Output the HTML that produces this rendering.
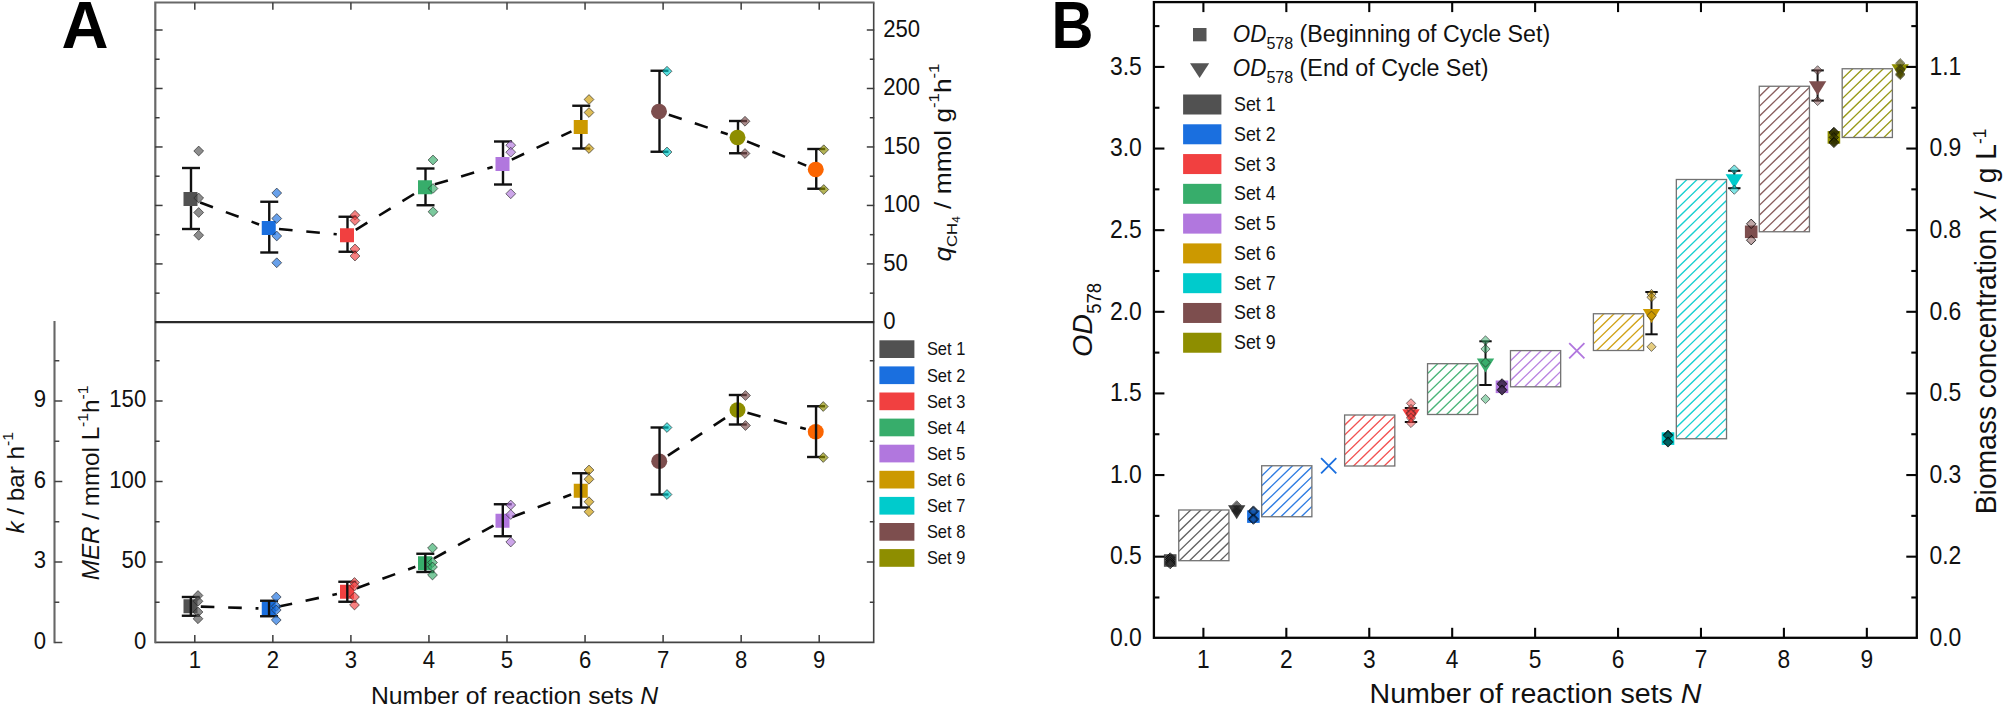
<!DOCTYPE html>
<html><head><meta charset="utf-8"><title>Figure</title>
<style>
html,body{margin:0;padding:0;background:#fff;}
svg{display:block;font-family:'Liberation Sans', Arial, sans-serif;}
</style></head><body>
<svg width="2003" height="706" viewBox="0 0 2003 706">
<rect width="2003" height="706" fill="#fff"/>
<line x1="200.16" y1="202.58" x2="259.09" y2="224.42" stroke="#0a0a0a" stroke-width="2.6" stroke-dasharray="13.6 13.8"/>
<line x1="279.01" y1="228.95" x2="336.74" y2="234.30" stroke="#0a0a0a" stroke-width="2.6" stroke-dasharray="13.6 13.8"/>
<line x1="355.77" y1="229.85" x2="416.23" y2="192.65" stroke="#0a0a0a" stroke-width="2.6" stroke-dasharray="13.6 13.8"/>
<line x1="434.87" y1="184.29" x2="492.63" y2="166.96" stroke="#0a0a0a" stroke-width="2.6" stroke-dasharray="13.6 13.8"/>
<line x1="511.81" y1="159.60" x2="571.44" y2="131.40" stroke="#0a0a0a" stroke-width="2.6" stroke-dasharray="13.6 13.8"/>
<line x1="668.78" y1="114.74" x2="727.72" y2="134.26" stroke="#0a0a0a" stroke-width="2.6" stroke-dasharray="13.6 13.8"/>
<line x1="747.03" y1="141.40" x2="806.22" y2="165.60" stroke="#0a0a0a" stroke-width="2.6" stroke-dasharray="13.6 13.8"/>
<line x1="191.00" y1="168.00" x2="191.00" y2="229.00" stroke="#111" stroke-width="2.4" />
<line x1="182.00" y1="168.00" x2="200.00" y2="168.00" stroke="#111" stroke-width="2.4" />
<line x1="182.00" y1="229.00" x2="200.00" y2="229.00" stroke="#111" stroke-width="2.4" />
<line x1="269.25" y1="201.75" x2="269.25" y2="252.50" stroke="#111" stroke-width="2.4" />
<line x1="260.25" y1="201.75" x2="278.25" y2="201.75" stroke="#111" stroke-width="2.4" />
<line x1="260.25" y1="252.50" x2="278.25" y2="252.50" stroke="#111" stroke-width="2.4" />
<line x1="347.50" y1="216.75" x2="347.50" y2="251.75" stroke="#111" stroke-width="2.4" />
<line x1="338.50" y1="216.75" x2="356.50" y2="216.75" stroke="#111" stroke-width="2.4" />
<line x1="338.50" y1="251.75" x2="356.50" y2="251.75" stroke="#111" stroke-width="2.4" />
<line x1="425.50" y1="168.50" x2="425.50" y2="205.25" stroke="#111" stroke-width="2.4" />
<line x1="416.50" y1="168.50" x2="434.50" y2="168.50" stroke="#111" stroke-width="2.4" />
<line x1="416.50" y1="205.25" x2="434.50" y2="205.25" stroke="#111" stroke-width="2.4" />
<line x1="503.00" y1="141.50" x2="503.00" y2="184.50" stroke="#111" stroke-width="2.4" />
<line x1="494.00" y1="141.50" x2="512.00" y2="141.50" stroke="#111" stroke-width="2.4" />
<line x1="494.00" y1="184.50" x2="512.00" y2="184.50" stroke="#111" stroke-width="2.4" />
<line x1="581.25" y1="105.75" x2="581.25" y2="148.50" stroke="#111" stroke-width="2.4" />
<line x1="572.25" y1="105.75" x2="590.25" y2="105.75" stroke="#111" stroke-width="2.4" />
<line x1="572.25" y1="148.50" x2="590.25" y2="148.50" stroke="#111" stroke-width="2.4" />
<line x1="659.50" y1="70.75" x2="659.50" y2="151.75" stroke="#111" stroke-width="2.4" />
<line x1="650.50" y1="70.75" x2="668.50" y2="70.75" stroke="#111" stroke-width="2.4" />
<line x1="650.50" y1="151.75" x2="668.50" y2="151.75" stroke="#111" stroke-width="2.4" />
<line x1="738.00" y1="121.00" x2="738.00" y2="153.25" stroke="#111" stroke-width="2.4" />
<line x1="729.00" y1="121.00" x2="747.00" y2="121.00" stroke="#111" stroke-width="2.4" />
<line x1="729.00" y1="153.25" x2="747.00" y2="153.25" stroke="#111" stroke-width="2.4" />
<line x1="816.25" y1="149.00" x2="816.25" y2="188.75" stroke="#111" stroke-width="2.4" />
<line x1="807.25" y1="149.00" x2="825.25" y2="149.00" stroke="#111" stroke-width="2.4" />
<line x1="807.25" y1="188.75" x2="825.25" y2="188.75" stroke="#111" stroke-width="2.4" />
<rect x="183.50" y="192.00" width="14" height="14" fill="#515151"/>
<rect x="261.75" y="221.00" width="14" height="14" fill="#1A6FDF"/>
<rect x="340.00" y="228.25" width="14" height="14" fill="#F14040"/>
<rect x="418.00" y="180.25" width="14" height="14" fill="#37AD6B"/>
<rect x="495.50" y="157.00" width="14" height="14" fill="#B177DE"/>
<rect x="573.75" y="120.00" width="14" height="14" fill="#CC9900"/>
<ellipse cx="659.00" cy="111.50" rx="8" ry="7.7" fill="#7D4E4E"/>
<ellipse cx="737.50" cy="137.50" rx="8" ry="7.7" fill="#8E8E00"/>
<ellipse cx="815.75" cy="169.50" rx="8" ry="7.7" fill="#FB6501"/>
<path d="M198.70 146.10L203.60 151.00L198.70 155.90L193.80 151.00Z" fill="#515151" fill-opacity="0.66" stroke="#222" stroke-width="0.75" stroke-opacity="0.85"/>
<path d="M198.70 193.10L203.60 198.00L198.70 202.90L193.80 198.00Z" fill="#515151" fill-opacity="0.66" stroke="#222" stroke-width="0.75" stroke-opacity="0.85"/>
<path d="M198.70 207.60L203.60 212.50L198.70 217.40L193.80 212.50Z" fill="#515151" fill-opacity="0.66" stroke="#222" stroke-width="0.75" stroke-opacity="0.85"/>
<path d="M198.70 230.35L203.60 235.25L198.70 240.15L193.80 235.25Z" fill="#515151" fill-opacity="0.66" stroke="#222" stroke-width="0.75" stroke-opacity="0.85"/>
<path d="M276.75 188.10L281.65 193.00L276.75 197.90L271.85 193.00Z" fill="#1A6FDF" fill-opacity="0.66" stroke="#222" stroke-width="0.75" stroke-opacity="0.85"/>
<path d="M276.75 213.60L281.65 218.50L276.75 223.40L271.85 218.50Z" fill="#1A6FDF" fill-opacity="0.66" stroke="#222" stroke-width="0.75" stroke-opacity="0.85"/>
<path d="M276.75 231.10L281.65 236.00L276.75 240.90L271.85 236.00Z" fill="#1A6FDF" fill-opacity="0.66" stroke="#222" stroke-width="0.75" stroke-opacity="0.85"/>
<path d="M276.75 257.85L281.65 262.75L276.75 267.65L271.85 262.75Z" fill="#1A6FDF" fill-opacity="0.66" stroke="#222" stroke-width="0.75" stroke-opacity="0.85"/>
<path d="M355.00 210.35L359.90 215.25L355.00 220.15L350.10 215.25Z" fill="#F14040" fill-opacity="0.66" stroke="#222" stroke-width="0.75" stroke-opacity="0.85"/>
<path d="M355.00 215.60L359.90 220.50L355.00 225.40L350.10 220.50Z" fill="#F14040" fill-opacity="0.66" stroke="#222" stroke-width="0.75" stroke-opacity="0.85"/>
<path d="M355.00 244.10L359.90 249.00L355.00 253.90L350.10 249.00Z" fill="#F14040" fill-opacity="0.66" stroke="#222" stroke-width="0.75" stroke-opacity="0.85"/>
<path d="M355.00 251.10L359.90 256.00L355.00 260.90L350.10 256.00Z" fill="#F14040" fill-opacity="0.66" stroke="#222" stroke-width="0.75" stroke-opacity="0.85"/>
<path d="M433.00 155.10L437.90 160.00L433.00 164.90L428.10 160.00Z" fill="#37AD6B" fill-opacity="0.66" stroke="#222" stroke-width="0.75" stroke-opacity="0.85"/>
<path d="M433.00 183.60L437.90 188.50L433.00 193.40L428.10 188.50Z" fill="#37AD6B" fill-opacity="0.66" stroke="#222" stroke-width="0.75" stroke-opacity="0.85"/>
<path d="M433.00 206.85L437.90 211.75L433.00 216.65L428.10 211.75Z" fill="#37AD6B" fill-opacity="0.66" stroke="#222" stroke-width="0.75" stroke-opacity="0.85"/>
<path d="M510.75 140.30L515.65 145.20L510.75 150.10L505.85 145.20Z" fill="#B177DE" fill-opacity="0.66" stroke="#222" stroke-width="0.75" stroke-opacity="0.85"/>
<path d="M510.75 147.30L515.65 152.20L510.75 157.10L505.85 152.20Z" fill="#B177DE" fill-opacity="0.66" stroke="#222" stroke-width="0.75" stroke-opacity="0.85"/>
<path d="M510.75 188.85L515.65 193.75L510.75 198.65L505.85 193.75Z" fill="#B177DE" fill-opacity="0.66" stroke="#222" stroke-width="0.75" stroke-opacity="0.85"/>
<path d="M589.00 94.60L593.90 99.50L589.00 104.40L584.10 99.50Z" fill="#CC9900" fill-opacity="0.66" stroke="#222" stroke-width="0.75" stroke-opacity="0.85"/>
<path d="M589.00 107.60L593.90 112.50L589.00 117.40L584.10 112.50Z" fill="#CC9900" fill-opacity="0.66" stroke="#222" stroke-width="0.75" stroke-opacity="0.85"/>
<path d="M589.00 143.60L593.90 148.50L589.00 153.40L584.10 148.50Z" fill="#CC9900" fill-opacity="0.66" stroke="#222" stroke-width="0.75" stroke-opacity="0.85"/>
<path d="M667.00 66.35L671.90 71.25L667.00 76.15L662.10 71.25Z" fill="#00CBCC" fill-opacity="0.66" stroke="#222" stroke-width="0.75" stroke-opacity="0.85"/>
<path d="M667.00 147.10L671.90 152.00L667.00 156.90L662.10 152.00Z" fill="#00CBCC" fill-opacity="0.66" stroke="#222" stroke-width="0.75" stroke-opacity="0.85"/>
<path d="M745.00 116.35L749.90 121.25L745.00 126.15L740.10 121.25Z" fill="#7D4E4E" fill-opacity="0.66" stroke="#222" stroke-width="0.75" stroke-opacity="0.85"/>
<path d="M745.00 148.60L749.90 153.50L745.00 158.40L740.10 153.50Z" fill="#7D4E4E" fill-opacity="0.66" stroke="#222" stroke-width="0.75" stroke-opacity="0.85"/>
<path d="M823.75 144.85L828.65 149.75L823.75 154.65L818.85 149.75Z" fill="#8E8E00" fill-opacity="0.66" stroke="#222" stroke-width="0.75" stroke-opacity="0.85"/>
<path d="M823.75 184.60L828.65 189.50L823.75 194.40L818.85 189.50Z" fill="#8E8E00" fill-opacity="0.66" stroke="#222" stroke-width="0.75" stroke-opacity="0.85"/>
<line x1="200.79" y1="606.58" x2="258.46" y2="608.42" stroke="#0a0a0a" stroke-width="2.6" stroke-dasharray="13.6 13.8"/>
<line x1="278.82" y1="606.56" x2="336.93" y2="593.94" stroke="#0a0a0a" stroke-width="2.6" stroke-dasharray="13.6 13.8"/>
<line x1="356.67" y1="588.22" x2="415.33" y2="566.78" stroke="#0a0a0a" stroke-width="2.6" stroke-dasharray="13.6 13.8"/>
<line x1="434.03" y1="558.30" x2="493.47" y2="525.70" stroke="#0a0a0a" stroke-width="2.6" stroke-dasharray="13.6 13.8"/>
<line x1="512.12" y1="517.06" x2="571.13" y2="494.44" stroke="#0a0a0a" stroke-width="2.6" stroke-dasharray="13.6 13.8"/>
<line x1="667.87" y1="455.61" x2="728.88" y2="415.64" stroke="#0a0a0a" stroke-width="2.6" stroke-dasharray="13.6 13.8"/>
<line x1="747.42" y1="412.76" x2="805.83" y2="428.99" stroke="#0a0a0a" stroke-width="2.6" stroke-dasharray="13.6 13.8"/>
<rect x="183.50" y="599.25" width="14" height="14" fill="#515151"/>
<rect x="261.75" y="601.75" width="14" height="14" fill="#1A6FDF"/>
<rect x="340.00" y="584.75" width="14" height="14" fill="#F14040"/>
<rect x="418.00" y="556.25" width="14" height="14" fill="#37AD6B"/>
<rect x="495.50" y="513.75" width="14" height="14" fill="#B177DE"/>
<rect x="573.75" y="483.75" width="14" height="14" fill="#CC9900"/>
<ellipse cx="659.25" cy="461.25" rx="8" ry="7.7" fill="#7D4E4E"/>
<ellipse cx="737.50" cy="410.00" rx="8" ry="7.7" fill="#8E8E00"/>
<ellipse cx="815.75" cy="431.75" rx="8" ry="7.7" fill="#FB6501"/>
<line x1="190.80" y1="597.00" x2="190.80" y2="615.75" stroke="#111" stroke-width="2.4" />
<line x1="181.80" y1="597.00" x2="199.80" y2="597.00" stroke="#111" stroke-width="2.4" />
<line x1="181.80" y1="615.75" x2="199.80" y2="615.75" stroke="#111" stroke-width="2.4" />
<line x1="269.05" y1="600.75" x2="269.05" y2="616.25" stroke="#111" stroke-width="2.4" />
<line x1="260.05" y1="600.75" x2="278.05" y2="600.75" stroke="#111" stroke-width="2.4" />
<line x1="260.05" y1="616.25" x2="278.05" y2="616.25" stroke="#111" stroke-width="2.4" />
<line x1="347.30" y1="581.75" x2="347.30" y2="601.75" stroke="#111" stroke-width="2.4" />
<line x1="338.30" y1="581.75" x2="356.30" y2="581.75" stroke="#111" stroke-width="2.4" />
<line x1="338.30" y1="601.75" x2="356.30" y2="601.75" stroke="#111" stroke-width="2.4" />
<line x1="425.30" y1="553.75" x2="425.30" y2="572.00" stroke="#111" stroke-width="2.4" />
<line x1="416.30" y1="553.75" x2="434.30" y2="553.75" stroke="#111" stroke-width="2.4" />
<line x1="416.30" y1="572.00" x2="434.30" y2="572.00" stroke="#111" stroke-width="2.4" />
<line x1="502.80" y1="504.25" x2="502.80" y2="536.25" stroke="#111" stroke-width="2.4" />
<line x1="493.80" y1="504.25" x2="511.80" y2="504.25" stroke="#111" stroke-width="2.4" />
<line x1="493.80" y1="536.25" x2="511.80" y2="536.25" stroke="#111" stroke-width="2.4" />
<line x1="581.05" y1="473.25" x2="581.05" y2="507.50" stroke="#111" stroke-width="2.4" />
<line x1="572.05" y1="473.25" x2="590.05" y2="473.25" stroke="#111" stroke-width="2.4" />
<line x1="572.05" y1="507.50" x2="590.05" y2="507.50" stroke="#111" stroke-width="2.4" />
<line x1="659.55" y1="427.50" x2="659.55" y2="494.50" stroke="#111" stroke-width="2.4" />
<line x1="650.55" y1="427.50" x2="668.55" y2="427.50" stroke="#111" stroke-width="2.4" />
<line x1="650.55" y1="494.50" x2="668.55" y2="494.50" stroke="#111" stroke-width="2.4" />
<line x1="737.80" y1="395.00" x2="737.80" y2="424.50" stroke="#111" stroke-width="2.4" />
<line x1="728.80" y1="395.00" x2="746.80" y2="395.00" stroke="#111" stroke-width="2.4" />
<line x1="728.80" y1="424.50" x2="746.80" y2="424.50" stroke="#111" stroke-width="2.4" />
<line x1="816.05" y1="406.25" x2="816.05" y2="457.00" stroke="#111" stroke-width="2.4" />
<line x1="807.05" y1="406.25" x2="825.05" y2="406.25" stroke="#111" stroke-width="2.4" />
<line x1="807.05" y1="457.00" x2="825.05" y2="457.00" stroke="#111" stroke-width="2.4" />
<path d="M198.00 590.60L202.90 595.50L198.00 600.40L193.10 595.50Z" fill="#515151" fill-opacity="0.66" stroke="#222" stroke-width="0.75" stroke-opacity="0.85"/>
<path d="M198.00 596.35L202.90 601.25L198.00 606.15L193.10 601.25Z" fill="#515151" fill-opacity="0.66" stroke="#222" stroke-width="0.75" stroke-opacity="0.85"/>
<path d="M198.00 607.10L202.90 612.00L198.00 616.90L193.10 612.00Z" fill="#515151" fill-opacity="0.66" stroke="#222" stroke-width="0.75" stroke-opacity="0.85"/>
<path d="M198.00 613.85L202.90 618.75L198.00 623.65L193.10 618.75Z" fill="#515151" fill-opacity="0.66" stroke="#222" stroke-width="0.75" stroke-opacity="0.85"/>
<path d="M276.25 592.10L281.15 597.00L276.25 601.90L271.35 597.00Z" fill="#1A6FDF" fill-opacity="0.66" stroke="#222" stroke-width="0.75" stroke-opacity="0.85"/>
<path d="M276.25 601.35L281.15 606.25L276.25 611.15L271.35 606.25Z" fill="#1A6FDF" fill-opacity="0.66" stroke="#222" stroke-width="0.75" stroke-opacity="0.85"/>
<path d="M276.25 605.10L281.15 610.00L276.25 614.90L271.35 610.00Z" fill="#1A6FDF" fill-opacity="0.66" stroke="#222" stroke-width="0.75" stroke-opacity="0.85"/>
<path d="M276.25 615.10L281.15 620.00L276.25 624.90L271.35 620.00Z" fill="#1A6FDF" fill-opacity="0.66" stroke="#222" stroke-width="0.75" stroke-opacity="0.85"/>
<path d="M354.50 577.60L359.40 582.50L354.50 587.40L349.60 582.50Z" fill="#F14040" fill-opacity="0.66" stroke="#222" stroke-width="0.75" stroke-opacity="0.85"/>
<path d="M354.50 581.10L359.40 586.00L354.50 590.90L349.60 586.00Z" fill="#F14040" fill-opacity="0.66" stroke="#222" stroke-width="0.75" stroke-opacity="0.85"/>
<path d="M354.50 592.10L359.40 597.00L354.50 601.90L349.60 597.00Z" fill="#F14040" fill-opacity="0.66" stroke="#222" stroke-width="0.75" stroke-opacity="0.85"/>
<path d="M354.50 600.10L359.40 605.00L354.50 609.90L349.60 605.00Z" fill="#F14040" fill-opacity="0.66" stroke="#222" stroke-width="0.75" stroke-opacity="0.85"/>
<path d="M432.50 543.10L437.40 548.00L432.50 552.90L427.60 548.00Z" fill="#37AD6B" fill-opacity="0.66" stroke="#222" stroke-width="0.75" stroke-opacity="0.85"/>
<path d="M432.50 557.60L437.40 562.50L432.50 567.40L427.60 562.50Z" fill="#37AD6B" fill-opacity="0.66" stroke="#222" stroke-width="0.75" stroke-opacity="0.85"/>
<path d="M432.50 562.10L437.40 567.00L432.50 571.90L427.60 567.00Z" fill="#37AD6B" fill-opacity="0.66" stroke="#222" stroke-width="0.75" stroke-opacity="0.85"/>
<path d="M432.50 570.10L437.40 575.00L432.50 579.90L427.60 575.00Z" fill="#37AD6B" fill-opacity="0.66" stroke="#222" stroke-width="0.75" stroke-opacity="0.85"/>
<path d="M510.75 500.10L515.65 505.00L510.75 509.90L505.85 505.00Z" fill="#B177DE" fill-opacity="0.66" stroke="#222" stroke-width="0.75" stroke-opacity="0.85"/>
<path d="M510.75 509.60L515.65 514.50L510.75 519.40L505.85 514.50Z" fill="#B177DE" fill-opacity="0.66" stroke="#222" stroke-width="0.75" stroke-opacity="0.85"/>
<path d="M510.75 537.10L515.65 542.00L510.75 546.90L505.85 542.00Z" fill="#B177DE" fill-opacity="0.66" stroke="#222" stroke-width="0.75" stroke-opacity="0.85"/>
<path d="M589.00 465.10L593.90 470.00L589.00 474.90L584.10 470.00Z" fill="#CC9900" fill-opacity="0.66" stroke="#222" stroke-width="0.75" stroke-opacity="0.85"/>
<path d="M589.00 474.35L593.90 479.25L589.00 484.15L584.10 479.25Z" fill="#CC9900" fill-opacity="0.66" stroke="#222" stroke-width="0.75" stroke-opacity="0.85"/>
<path d="M589.00 496.85L593.90 501.75L589.00 506.65L584.10 501.75Z" fill="#CC9900" fill-opacity="0.66" stroke="#222" stroke-width="0.75" stroke-opacity="0.85"/>
<path d="M589.00 506.85L593.90 511.75L589.00 516.65L584.10 511.75Z" fill="#CC9900" fill-opacity="0.66" stroke="#222" stroke-width="0.75" stroke-opacity="0.85"/>
<path d="M667.00 422.60L671.90 427.50L667.00 432.40L662.10 427.50Z" fill="#00CBCC" fill-opacity="0.66" stroke="#222" stroke-width="0.75" stroke-opacity="0.85"/>
<path d="M667.00 489.60L671.90 494.50L667.00 499.40L662.10 494.50Z" fill="#00CBCC" fill-opacity="0.66" stroke="#222" stroke-width="0.75" stroke-opacity="0.85"/>
<path d="M745.50 390.60L750.40 395.50L745.50 400.40L740.60 395.50Z" fill="#7D4E4E" fill-opacity="0.66" stroke="#222" stroke-width="0.75" stroke-opacity="0.85"/>
<path d="M745.50 420.60L750.40 425.50L745.50 430.40L740.60 425.50Z" fill="#7D4E4E" fill-opacity="0.66" stroke="#222" stroke-width="0.75" stroke-opacity="0.85"/>
<path d="M823.25 401.60L828.15 406.50L823.25 411.40L818.35 406.50Z" fill="#8E8E00" fill-opacity="0.66" stroke="#222" stroke-width="0.75" stroke-opacity="0.85"/>
<path d="M823.25 452.60L828.15 457.50L823.25 462.40L818.35 457.50Z" fill="#8E8E00" fill-opacity="0.66" stroke="#222" stroke-width="0.75" stroke-opacity="0.85"/>
<path d="M873.7 2.6V642.4H155.0" fill="none" stroke="#444" stroke-width="1.6"/>
<path d="M155.3 643.1999999999999V2.5H874.5" fill="none" stroke="#686868" stroke-width="2.2"/>
<line x1="155.00" y1="322.20" x2="874.20" y2="322.20" stroke="#2a2a2a" stroke-width="2.3" />
<line x1="194.80" y1="2.60" x2="194.80" y2="9.80" stroke="#3c3c3c" stroke-width="1.5" />
<line x1="194.80" y1="642.40" x2="194.80" y2="635.00" stroke="#3c3c3c" stroke-width="1.5" />
<text transform="translate(194.80 668.20) scale(0.95 1)" font-size="23.3" text-anchor="middle" fill="#111" >1</text>
<line x1="272.85" y1="2.60" x2="272.85" y2="9.80" stroke="#3c3c3c" stroke-width="1.5" />
<line x1="272.85" y1="642.40" x2="272.85" y2="635.00" stroke="#3c3c3c" stroke-width="1.5" />
<text transform="translate(272.85 668.20) scale(0.95 1)" font-size="23.3" text-anchor="middle" fill="#111" >2</text>
<line x1="350.90" y1="2.60" x2="350.90" y2="9.80" stroke="#3c3c3c" stroke-width="1.5" />
<line x1="350.90" y1="642.40" x2="350.90" y2="635.00" stroke="#3c3c3c" stroke-width="1.5" />
<text transform="translate(350.90 668.20) scale(0.95 1)" font-size="23.3" text-anchor="middle" fill="#111" >3</text>
<line x1="428.95" y1="2.60" x2="428.95" y2="9.80" stroke="#3c3c3c" stroke-width="1.5" />
<line x1="428.95" y1="642.40" x2="428.95" y2="635.00" stroke="#3c3c3c" stroke-width="1.5" />
<text transform="translate(428.95 668.20) scale(0.95 1)" font-size="23.3" text-anchor="middle" fill="#111" >4</text>
<line x1="507.00" y1="2.60" x2="507.00" y2="9.80" stroke="#3c3c3c" stroke-width="1.5" />
<line x1="507.00" y1="642.40" x2="507.00" y2="635.00" stroke="#3c3c3c" stroke-width="1.5" />
<text transform="translate(507.00 668.20) scale(0.95 1)" font-size="23.3" text-anchor="middle" fill="#111" >5</text>
<line x1="585.05" y1="2.60" x2="585.05" y2="9.80" stroke="#3c3c3c" stroke-width="1.5" />
<line x1="585.05" y1="642.40" x2="585.05" y2="635.00" stroke="#3c3c3c" stroke-width="1.5" />
<text transform="translate(585.05 668.20) scale(0.95 1)" font-size="23.3" text-anchor="middle" fill="#111" >6</text>
<line x1="663.10" y1="2.60" x2="663.10" y2="9.80" stroke="#3c3c3c" stroke-width="1.5" />
<line x1="663.10" y1="642.40" x2="663.10" y2="635.00" stroke="#3c3c3c" stroke-width="1.5" />
<text transform="translate(663.10 668.20) scale(0.95 1)" font-size="23.3" text-anchor="middle" fill="#111" >7</text>
<line x1="741.15" y1="2.60" x2="741.15" y2="9.80" stroke="#3c3c3c" stroke-width="1.5" />
<line x1="741.15" y1="642.40" x2="741.15" y2="635.00" stroke="#3c3c3c" stroke-width="1.5" />
<text transform="translate(741.15 668.20) scale(0.95 1)" font-size="23.3" text-anchor="middle" fill="#111" >8</text>
<line x1="819.20" y1="2.60" x2="819.20" y2="9.80" stroke="#3c3c3c" stroke-width="1.5" />
<line x1="819.20" y1="642.40" x2="819.20" y2="635.00" stroke="#3c3c3c" stroke-width="1.5" />
<text transform="translate(819.20 668.20) scale(0.95 1)" font-size="23.3" text-anchor="middle" fill="#111" >9</text>
<line x1="155.00" y1="293.16" x2="159.60" y2="293.16" stroke="#3c3c3c" stroke-width="1.5" />
<line x1="874.20" y1="293.16" x2="869.80" y2="293.16" stroke="#3c3c3c" stroke-width="1.5" />
<line x1="155.00" y1="263.92" x2="162.60" y2="263.92" stroke="#3c3c3c" stroke-width="1.5" />
<line x1="874.20" y1="263.92" x2="866.80" y2="263.92" stroke="#3c3c3c" stroke-width="1.5" />
<line x1="155.00" y1="234.68" x2="159.60" y2="234.68" stroke="#3c3c3c" stroke-width="1.5" />
<line x1="874.20" y1="234.68" x2="869.80" y2="234.68" stroke="#3c3c3c" stroke-width="1.5" />
<line x1="155.00" y1="205.44" x2="162.60" y2="205.44" stroke="#3c3c3c" stroke-width="1.5" />
<line x1="874.20" y1="205.44" x2="866.80" y2="205.44" stroke="#3c3c3c" stroke-width="1.5" />
<line x1="155.00" y1="176.20" x2="159.60" y2="176.20" stroke="#3c3c3c" stroke-width="1.5" />
<line x1="874.20" y1="176.20" x2="869.80" y2="176.20" stroke="#3c3c3c" stroke-width="1.5" />
<line x1="155.00" y1="146.96" x2="162.60" y2="146.96" stroke="#3c3c3c" stroke-width="1.5" />
<line x1="874.20" y1="146.96" x2="866.80" y2="146.96" stroke="#3c3c3c" stroke-width="1.5" />
<line x1="155.00" y1="117.72" x2="159.60" y2="117.72" stroke="#3c3c3c" stroke-width="1.5" />
<line x1="874.20" y1="117.72" x2="869.80" y2="117.72" stroke="#3c3c3c" stroke-width="1.5" />
<line x1="155.00" y1="88.48" x2="162.60" y2="88.48" stroke="#3c3c3c" stroke-width="1.5" />
<line x1="874.20" y1="88.48" x2="866.80" y2="88.48" stroke="#3c3c3c" stroke-width="1.5" />
<line x1="155.00" y1="59.24" x2="159.60" y2="59.24" stroke="#3c3c3c" stroke-width="1.5" />
<line x1="874.20" y1="59.24" x2="869.80" y2="59.24" stroke="#3c3c3c" stroke-width="1.5" />
<line x1="155.00" y1="30.00" x2="162.60" y2="30.00" stroke="#3c3c3c" stroke-width="1.5" />
<line x1="874.20" y1="30.00" x2="866.80" y2="30.00" stroke="#3c3c3c" stroke-width="1.5" />
<text transform="translate(883.20 329.40) scale(0.95 1)" font-size="23.3" text-anchor="start" fill="#111" >0</text>
<text transform="translate(883.20 270.92) scale(0.95 1)" font-size="23.3" text-anchor="start" fill="#111" >50</text>
<text transform="translate(883.20 212.44) scale(0.95 1)" font-size="23.3" text-anchor="start" fill="#111" >100</text>
<text transform="translate(883.20 153.96) scale(0.95 1)" font-size="23.3" text-anchor="start" fill="#111" >150</text>
<text transform="translate(883.20 95.48) scale(0.95 1)" font-size="23.3" text-anchor="start" fill="#111" >200</text>
<text transform="translate(883.20 37.00) scale(0.95 1)" font-size="23.3" text-anchor="start" fill="#111" >250</text>
<text transform="translate(146.20 648.90) scale(0.95 1)" font-size="23.3" text-anchor="end" fill="#111" >0</text>
<line x1="155.00" y1="602.25" x2="159.60" y2="602.25" stroke="#3c3c3c" stroke-width="1.5" />
<line x1="874.20" y1="602.25" x2="869.80" y2="602.25" stroke="#3c3c3c" stroke-width="1.5" />
<line x1="155.00" y1="562.00" x2="162.60" y2="562.00" stroke="#3c3c3c" stroke-width="1.5" />
<line x1="874.20" y1="562.00" x2="866.80" y2="562.00" stroke="#3c3c3c" stroke-width="1.5" />
<text transform="translate(146.20 568.40) scale(0.95 1)" font-size="23.3" text-anchor="end" fill="#111" >50</text>
<line x1="155.00" y1="521.75" x2="159.60" y2="521.75" stroke="#3c3c3c" stroke-width="1.5" />
<line x1="874.20" y1="521.75" x2="869.80" y2="521.75" stroke="#3c3c3c" stroke-width="1.5" />
<line x1="155.00" y1="481.50" x2="162.60" y2="481.50" stroke="#3c3c3c" stroke-width="1.5" />
<line x1="874.20" y1="481.50" x2="866.80" y2="481.50" stroke="#3c3c3c" stroke-width="1.5" />
<text transform="translate(146.20 487.90) scale(0.95 1)" font-size="23.3" text-anchor="end" fill="#111" >100</text>
<line x1="155.00" y1="441.25" x2="159.60" y2="441.25" stroke="#3c3c3c" stroke-width="1.5" />
<line x1="874.20" y1="441.25" x2="869.80" y2="441.25" stroke="#3c3c3c" stroke-width="1.5" />
<line x1="155.00" y1="401.00" x2="162.60" y2="401.00" stroke="#3c3c3c" stroke-width="1.5" />
<line x1="874.20" y1="401.00" x2="866.80" y2="401.00" stroke="#3c3c3c" stroke-width="1.5" />
<text transform="translate(146.20 407.40) scale(0.95 1)" font-size="23.3" text-anchor="end" fill="#111" >150</text>
<line x1="155.00" y1="360.75" x2="159.60" y2="360.75" stroke="#3c3c3c" stroke-width="1.5" />
<line x1="874.20" y1="360.75" x2="869.80" y2="360.75" stroke="#3c3c3c" stroke-width="1.5" />
<line x1="54.50" y1="321.00" x2="54.50" y2="643.20" stroke="#666" stroke-width="2.1" />
<line x1="54.50" y1="642.50" x2="62.30" y2="642.50" stroke="#444" stroke-width="1.5" />
<text transform="translate(46.00 648.90) scale(0.95 1)" font-size="23.3" text-anchor="end" fill="#111" >0</text>
<line x1="54.50" y1="602.25" x2="59.30" y2="602.25" stroke="#444" stroke-width="1.5" />
<line x1="54.50" y1="562.00" x2="62.30" y2="562.00" stroke="#444" stroke-width="1.5" />
<text transform="translate(46.00 568.40) scale(0.95 1)" font-size="23.3" text-anchor="end" fill="#111" >3</text>
<line x1="54.50" y1="521.75" x2="59.30" y2="521.75" stroke="#444" stroke-width="1.5" />
<line x1="54.50" y1="481.50" x2="62.30" y2="481.50" stroke="#444" stroke-width="1.5" />
<text transform="translate(46.00 487.90) scale(0.95 1)" font-size="23.3" text-anchor="end" fill="#111" >6</text>
<line x1="54.50" y1="441.25" x2="59.30" y2="441.25" stroke="#444" stroke-width="1.5" />
<line x1="54.50" y1="401.00" x2="62.30" y2="401.00" stroke="#444" stroke-width="1.5" />
<text transform="translate(46.00 407.40) scale(0.95 1)" font-size="23.3" text-anchor="end" fill="#111" >9</text>
<line x1="54.50" y1="360.75" x2="59.30" y2="360.75" stroke="#444" stroke-width="1.5" />
<text x="371" y="703.7" font-size="23.8" fill="#111" textLength="287.2" lengthAdjust="spacingAndGlyphs">Number of reaction sets <tspan font-style="italic">N</tspan></text>
<g transform="translate(950.8 261.6) rotate(-90)"><text x="0" y="0" font-size="24.5" fill="#111" textLength="198" lengthAdjust="spacingAndGlyphs"><tspan font-style="italic">q</tspan><tspan font-size="15.5" dy="6">CH</tspan><tspan font-size="11" dy="3.5">4</tspan><tspan dy="-9.5"> / mmol g</tspan><tspan font-size="15.5" dy="-11.5">-1</tspan><tspan dy="11.5">h</tspan><tspan font-size="15.5" dy="-11.5">-1</tspan></text></g>
<g transform="translate(99.4 580.2) rotate(-90)"><text x="0" y="0" font-size="24" fill="#111" textLength="194.6" lengthAdjust="spacingAndGlyphs"><tspan font-style="italic">MER</tspan> / mmol L<tspan font-size="15.5" dy="-11.5">-1</tspan><tspan dy="11.5">h</tspan><tspan font-size="15.5" dy="-11.5">-1</tspan></text></g>
<g transform="translate(24.4 533.6) rotate(-90)"><text x="0" y="0" font-size="24" fill="#111" textLength="101.6" lengthAdjust="spacingAndGlyphs"><tspan font-style="italic">k</tspan> / bar h<tspan font-size="15.5" dy="-11.5">-1</tspan></text></g>
<text transform="translate(61.6 48.2) scale(0.965 1)" font-size="67.5" font-weight="bold" fill="#000">A</text>
<rect x="879.4" y="340.30" width="35" height="17.7" fill="#515151"/>
<text x="926.9" y="355.40" font-size="18.2" fill="#111" textLength="38.4" lengthAdjust="spacingAndGlyphs">Set 1</text>
<rect x="879.4" y="366.40" width="35" height="17.7" fill="#1A6FDF"/>
<text x="926.9" y="381.50" font-size="18.2" fill="#111" textLength="38.4" lengthAdjust="spacingAndGlyphs">Set 2</text>
<rect x="879.4" y="392.50" width="35" height="17.7" fill="#F14040"/>
<text x="926.9" y="407.60" font-size="18.2" fill="#111" textLength="38.4" lengthAdjust="spacingAndGlyphs">Set 3</text>
<rect x="879.4" y="418.60" width="35" height="17.7" fill="#37AD6B"/>
<text x="926.9" y="433.70" font-size="18.2" fill="#111" textLength="38.4" lengthAdjust="spacingAndGlyphs">Set 4</text>
<rect x="879.4" y="444.70" width="35" height="17.7" fill="#B177DE"/>
<text x="926.9" y="459.80" font-size="18.2" fill="#111" textLength="38.4" lengthAdjust="spacingAndGlyphs">Set 5</text>
<rect x="879.4" y="470.80" width="35" height="17.7" fill="#CC9900"/>
<text x="926.9" y="485.90" font-size="18.2" fill="#111" textLength="38.4" lengthAdjust="spacingAndGlyphs">Set 6</text>
<rect x="879.4" y="496.90" width="35" height="17.7" fill="#00CBCC"/>
<text x="926.9" y="512.00" font-size="18.2" fill="#111" textLength="38.4" lengthAdjust="spacingAndGlyphs">Set 7</text>
<rect x="879.4" y="523.00" width="35" height="17.7" fill="#7D4E4E"/>
<text x="926.9" y="538.10" font-size="18.2" fill="#111" textLength="38.4" lengthAdjust="spacingAndGlyphs">Set 8</text>
<rect x="879.4" y="549.10" width="35" height="17.7" fill="#8E8E00"/>
<text x="926.9" y="564.20" font-size="18.2" fill="#111" textLength="38.4" lengthAdjust="spacingAndGlyphs">Set 9</text>
<defs>
<clipPath id="cb0"><rect x="1178.75" y="510.00" width="50.2" height="50.70"/></clipPath>
<clipPath id="cb1"><rect x="1261.68" y="465.75" width="50.2" height="51.00"/></clipPath>
<clipPath id="cb2"><rect x="1344.61" y="415.00" width="50.2" height="51.00"/></clipPath>
<clipPath id="cb3"><rect x="1427.54" y="363.70" width="50.2" height="50.80"/></clipPath>
<clipPath id="cb4"><rect x="1510.47" y="350.60" width="50.2" height="36.20"/></clipPath>
<clipPath id="cb5"><rect x="1593.40" y="313.75" width="50.2" height="36.75"/></clipPath>
<clipPath id="cb6"><rect x="1676.33" y="179.50" width="50.2" height="259.25"/></clipPath>
<clipPath id="cb7"><rect x="1759.26" y="86.25" width="50.2" height="145.50"/></clipPath>
<clipPath id="cb8"><rect x="1842.19" y="68.75" width="50.2" height="68.75"/></clipPath>
</defs>
<path d="M1177.75 522.61L1229.95 471.98M1177.75 532.51L1229.95 481.88M1177.75 542.41L1229.95 491.78M1177.75 552.31L1229.95 501.68M1177.75 562.21L1229.95 511.58M1177.75 572.11L1229.95 521.48M1177.75 582.01L1229.95 531.38M1177.75 591.91L1229.95 541.28M1177.75 601.81L1229.95 551.18" stroke="#515151" stroke-width="1.35" fill="none" clip-path="url(#cb0)" stroke-opacity="0.9"/>
<rect x="1178.75" y="510.00" width="50.2" height="50.70" fill="none" stroke="#727272" stroke-width="1.3"/>
<path d="M1260.68 476.91L1312.88 426.27M1260.68 486.81L1312.88 436.17M1260.68 496.71L1312.88 446.07M1260.68 506.61L1312.88 455.97M1260.68 516.50L1312.88 465.87M1260.68 526.40L1312.88 475.77M1260.68 536.31L1312.88 485.67M1260.68 546.21L1312.88 495.57M1260.68 556.11L1312.88 505.47M1260.68 566.00L1312.88 515.37" stroke="#1A6FDF" stroke-width="1.35" fill="none" clip-path="url(#cb1)" stroke-opacity="0.9"/>
<rect x="1261.68" y="465.75" width="50.2" height="51.00" fill="none" stroke="#727272" stroke-width="1.3"/>
<path d="M1343.61 426.16L1395.81 375.52M1343.61 436.06L1395.81 385.42M1343.61 445.96L1395.81 395.32M1343.61 455.86L1395.81 405.22M1343.61 465.75L1395.81 415.12M1343.61 475.66L1395.81 425.02M1343.61 485.56L1395.81 434.92M1343.61 495.46L1395.81 444.82M1343.61 505.36L1395.81 454.72M1343.61 515.25L1395.81 464.62" stroke="#F14040" stroke-width="1.35" fill="none" clip-path="url(#cb2)" stroke-opacity="0.9"/>
<rect x="1344.61" y="415.00" width="50.2" height="51.00" fill="none" stroke="#727272" stroke-width="1.3"/>
<path d="M1426.54 374.56L1478.74 323.93M1426.54 384.46L1478.74 333.83M1426.54 394.36L1478.74 343.73M1426.54 404.26L1478.74 353.63M1426.54 414.16L1478.74 363.53M1426.54 424.06L1478.74 373.43M1426.54 433.96L1478.74 383.33M1426.54 443.86L1478.74 393.23M1426.54 453.76L1478.74 403.13M1426.54 463.66L1478.74 413.03" stroke="#37AD6B" stroke-width="1.35" fill="none" clip-path="url(#cb3)" stroke-opacity="0.9"/>
<rect x="1427.54" y="363.70" width="50.2" height="50.80" fill="none" stroke="#727272" stroke-width="1.3"/>
<path d="M1509.47 361.76L1561.67 311.12M1509.47 371.66L1561.67 321.02M1509.47 381.56L1561.67 330.92M1509.47 391.46L1561.67 340.82M1509.47 401.36L1561.67 350.72M1509.47 411.26L1561.67 360.62M1509.47 421.16L1561.67 370.52M1509.47 431.06L1561.67 380.42" stroke="#B177DE" stroke-width="1.35" fill="none" clip-path="url(#cb4)" stroke-opacity="0.9"/>
<rect x="1510.47" y="350.60" width="50.2" height="36.20" fill="none" stroke="#727272" stroke-width="1.3"/>
<path d="M1592.40 324.91L1644.60 274.27M1592.40 334.81L1644.60 284.17M1592.40 344.71L1644.60 294.07M1592.40 354.61L1644.60 303.97M1592.40 364.50L1644.60 313.87M1592.40 374.41L1644.60 323.77M1592.40 384.31L1644.60 333.67M1592.40 394.21L1644.60 343.57" stroke="#CC9900" stroke-width="1.35" fill="none" clip-path="url(#cb5)" stroke-opacity="0.9"/>
<rect x="1593.40" y="313.75" width="50.2" height="36.75" fill="none" stroke="#727272" stroke-width="1.3"/>
<path d="M1675.33 190.75L1727.53 140.12M1675.33 200.65L1727.53 150.02M1675.33 210.55L1727.53 159.92M1675.33 220.45L1727.53 169.82M1675.33 230.35L1727.53 179.72M1675.33 240.25L1727.53 189.62M1675.33 250.15L1727.53 199.52M1675.33 260.05L1727.53 209.42M1675.33 269.95L1727.53 219.32M1675.33 279.85L1727.53 229.22M1675.33 289.75L1727.53 239.12M1675.33 299.65L1727.53 249.02M1675.33 309.55L1727.53 258.92M1675.33 319.45L1727.53 268.82M1675.33 329.35L1727.53 278.72M1675.33 339.25L1727.53 288.62M1675.33 349.15L1727.53 298.52M1675.33 359.05L1727.53 308.42M1675.33 368.95L1727.53 318.32M1675.33 378.85L1727.53 328.22M1675.33 388.75L1727.53 338.12M1675.33 398.65L1727.53 348.02M1675.33 408.55L1727.53 357.92M1675.33 418.45L1727.53 367.82M1675.33 428.35L1727.53 377.72M1675.33 438.25L1727.53 387.62M1675.33 448.15L1727.53 397.52M1675.33 458.05L1727.53 407.42M1675.33 467.95L1727.53 417.32M1675.33 477.85L1727.53 427.22M1675.33 487.75L1727.53 437.12" stroke="#00CBCC" stroke-width="1.35" fill="none" clip-path="url(#cb6)" stroke-opacity="0.9"/>
<rect x="1676.33" y="179.50" width="50.2" height="259.25" fill="none" stroke="#727272" stroke-width="1.3"/>
<path d="M1758.26 97.41L1810.46 46.77M1758.26 107.31L1810.46 56.67M1758.26 117.20L1810.46 66.57M1758.26 127.10L1810.46 76.47M1758.26 137.00L1810.46 86.37M1758.26 146.91L1810.46 96.27M1758.26 156.80L1810.46 106.17M1758.26 166.71L1810.46 116.07M1758.26 176.60L1810.46 125.97M1758.26 186.51L1810.46 135.87M1758.26 196.41L1810.46 145.77M1758.26 206.31L1810.46 155.67M1758.26 216.21L1810.46 165.57M1758.26 226.11L1810.46 175.47M1758.26 236.01L1810.46 185.37M1758.26 245.91L1810.46 195.27M1758.26 255.81L1810.46 205.17M1758.26 265.71L1810.46 215.07M1758.26 275.61L1810.46 224.97" stroke="#7D4E4E" stroke-width="1.35" fill="none" clip-path="url(#cb7)" stroke-opacity="0.9"/>
<rect x="1759.26" y="86.25" width="50.2" height="145.50" fill="none" stroke="#727272" stroke-width="1.3"/>
<path d="M1841.19 79.91L1893.39 29.27M1841.19 89.81L1893.39 39.17M1841.19 99.70L1893.39 49.07M1841.19 109.60L1893.39 58.97M1841.19 119.50L1893.39 68.87M1841.19 129.41L1893.39 78.77M1841.19 139.30L1893.39 88.67M1841.19 149.21L1893.39 98.57M1841.19 159.10L1893.39 108.47M1841.19 169.01L1893.39 118.37M1841.19 178.91L1893.39 128.27" stroke="#8E8E00" stroke-width="1.35" fill="none" clip-path="url(#cb8)" stroke-opacity="0.9"/>
<rect x="1842.19" y="68.75" width="50.2" height="68.75" fill="none" stroke="#727272" stroke-width="1.3"/>
<path d="M1321.10 458.15L1336.30 473.35M1321.10 473.35L1336.30 458.15" stroke="#1A6FDF" stroke-width="1.8" fill="none"/>
<path d="M1569.20 343.15L1584.40 358.35M1569.20 358.35L1584.40 343.15" stroke="#B177DE" stroke-width="1.8" fill="none"/>
<rect x="1163.90" y="554.20" width="12.6" height="12.6" fill="#515151"/>
<path d="M1170.20 552.80L1174.90 557.50L1170.20 562.20L1165.50 557.50Z" fill="#515151" fill-opacity="0.5" stroke="#000" stroke-width="0.9" stroke-opacity="0.85"/>
<path d="M1170.20 553.90L1173.80 557.50L1170.20 561.10L1166.60 557.50Z" fill="#000" fill-opacity="0.25" stroke="#000" stroke-width="0.4" stroke-opacity="0.85"/>
<path d="M1170.20 554.80L1174.90 559.50L1170.20 564.20L1165.50 559.50Z" fill="#515151" fill-opacity="0.5" stroke="#000" stroke-width="0.9" stroke-opacity="0.85"/>
<path d="M1170.20 555.90L1173.80 559.50L1170.20 563.10L1166.60 559.50Z" fill="#000" fill-opacity="0.25" stroke="#000" stroke-width="0.4" stroke-opacity="0.85"/>
<path d="M1170.20 557.30L1174.90 562.00L1170.20 566.70L1165.50 562.00Z" fill="#515151" fill-opacity="0.5" stroke="#000" stroke-width="0.9" stroke-opacity="0.85"/>
<path d="M1170.20 558.40L1173.80 562.00L1170.20 565.60L1166.60 562.00Z" fill="#000" fill-opacity="0.25" stroke="#000" stroke-width="0.4" stroke-opacity="0.85"/>
<path d="M1170.20 559.30L1174.90 564.00L1170.20 568.70L1165.50 564.00Z" fill="#515151" fill-opacity="0.5" stroke="#000" stroke-width="0.9" stroke-opacity="0.85"/>
<path d="M1170.20 560.40L1173.80 564.00L1170.20 567.60L1166.60 564.00Z" fill="#000" fill-opacity="0.25" stroke="#000" stroke-width="0.4" stroke-opacity="0.85"/>
<rect x="1247.10" y="510.30" width="12.6" height="12.6" fill="#1A6FDF"/>
<path d="M1253.40 505.90L1258.10 510.60L1253.40 515.30L1248.70 510.60Z" fill="#1A6FDF" fill-opacity="0.5" stroke="#000" stroke-width="0.9" stroke-opacity="0.85"/>
<path d="M1253.40 507.00L1257.00 510.60L1253.40 514.20L1249.80 510.60Z" fill="#000" fill-opacity="0.15" stroke="#000" stroke-width="0.4" stroke-opacity="0.85"/>
<path d="M1253.40 506.90L1258.10 511.60L1253.40 516.30L1248.70 511.60Z" fill="#1A6FDF" fill-opacity="0.5" stroke="#000" stroke-width="0.9" stroke-opacity="0.85"/>
<path d="M1253.40 508.00L1257.00 511.60L1253.40 515.20L1249.80 511.60Z" fill="#000" fill-opacity="0.15" stroke="#000" stroke-width="0.4" stroke-opacity="0.85"/>
<path d="M1253.40 513.90L1258.10 518.60L1253.40 523.30L1248.70 518.60Z" fill="#1A6FDF" fill-opacity="0.5" stroke="#000" stroke-width="0.9" stroke-opacity="0.85"/>
<path d="M1253.40 515.00L1257.00 518.60L1253.40 522.20L1249.80 518.60Z" fill="#000" fill-opacity="0.15" stroke="#000" stroke-width="0.4" stroke-opacity="0.85"/>
<path d="M1253.40 514.90L1258.10 519.60L1253.40 524.30L1248.70 519.60Z" fill="#1A6FDF" fill-opacity="0.5" stroke="#000" stroke-width="0.9" stroke-opacity="0.85"/>
<path d="M1253.40 516.00L1257.00 519.60L1253.40 523.20L1249.80 519.60Z" fill="#000" fill-opacity="0.15" stroke="#000" stroke-width="0.4" stroke-opacity="0.85"/>
<rect x="1495.70" y="380.50" width="12.6" height="12.6" fill="#B177DE"/>
<path d="M1502.00 378.70L1506.70 383.40L1502.00 388.10L1497.30 383.40Z" fill="#B177DE" fill-opacity="0.5" stroke="#000" stroke-width="0.9" stroke-opacity="0.85"/>
<path d="M1502.00 379.80L1505.60 383.40L1502.00 387.00L1498.40 383.40Z" fill="#000" fill-opacity="0.45" stroke="#000" stroke-width="0.4" stroke-opacity="0.85"/>
<path d="M1502.00 379.50L1506.70 384.20L1502.00 388.90L1497.30 384.20Z" fill="#B177DE" fill-opacity="0.5" stroke="#000" stroke-width="0.9" stroke-opacity="0.85"/>
<path d="M1502.00 380.60L1505.60 384.20L1502.00 387.80L1498.40 384.20Z" fill="#000" fill-opacity="0.45" stroke="#000" stroke-width="0.4" stroke-opacity="0.85"/>
<path d="M1502.00 384.90L1506.70 389.60L1502.00 394.30L1497.30 389.60Z" fill="#B177DE" fill-opacity="0.5" stroke="#000" stroke-width="0.9" stroke-opacity="0.85"/>
<path d="M1502.00 386.00L1505.60 389.60L1502.00 393.20L1498.40 389.60Z" fill="#000" fill-opacity="0.45" stroke="#000" stroke-width="0.4" stroke-opacity="0.85"/>
<path d="M1502.00 385.70L1506.70 390.40L1502.00 395.10L1497.30 390.40Z" fill="#B177DE" fill-opacity="0.5" stroke="#000" stroke-width="0.9" stroke-opacity="0.85"/>
<path d="M1502.00 386.80L1505.60 390.40L1502.00 394.00L1498.40 390.40Z" fill="#000" fill-opacity="0.45" stroke="#000" stroke-width="0.4" stroke-opacity="0.85"/>
<rect x="1661.70" y="432.30" width="12.6" height="12.6" fill="#00CBCC"/>
<path d="M1668.00 430.10L1672.70 434.80L1668.00 439.50L1663.30 434.80Z" fill="#00CBCC" fill-opacity="0.5" stroke="#000" stroke-width="0.9" stroke-opacity="0.85"/>
<path d="M1668.00 431.20L1671.60 434.80L1668.00 438.40L1664.40 434.80Z" fill="#000" fill-opacity="0.4" stroke="#000" stroke-width="0.4" stroke-opacity="0.85"/>
<path d="M1668.00 430.90L1672.70 435.60L1668.00 440.30L1663.30 435.60Z" fill="#00CBCC" fill-opacity="0.5" stroke="#000" stroke-width="0.9" stroke-opacity="0.85"/>
<path d="M1668.00 432.00L1671.60 435.60L1668.00 439.20L1664.40 435.60Z" fill="#000" fill-opacity="0.4" stroke="#000" stroke-width="0.4" stroke-opacity="0.85"/>
<path d="M1668.00 436.90L1672.70 441.60L1668.00 446.30L1663.30 441.60Z" fill="#00CBCC" fill-opacity="0.5" stroke="#000" stroke-width="0.9" stroke-opacity="0.85"/>
<path d="M1668.00 438.00L1671.60 441.60L1668.00 445.20L1664.40 441.60Z" fill="#000" fill-opacity="0.4" stroke="#000" stroke-width="0.4" stroke-opacity="0.85"/>
<path d="M1668.00 437.70L1672.70 442.40L1668.00 447.10L1663.30 442.40Z" fill="#00CBCC" fill-opacity="0.5" stroke="#000" stroke-width="0.9" stroke-opacity="0.85"/>
<path d="M1668.00 438.80L1671.60 442.40L1668.00 446.00L1664.40 442.40Z" fill="#000" fill-opacity="0.4" stroke="#000" stroke-width="0.4" stroke-opacity="0.85"/>
<rect x="1744.90" y="225.50" width="12.6" height="12.6" fill="#7D4E4E"/>
<path d="M1751.20 219.10L1755.90 223.80L1751.20 228.50L1746.50 223.80Z" fill="#7D4E4E" fill-opacity="0.5" stroke="#000" stroke-width="0.9" stroke-opacity="0.85"/>
<path d="M1751.20 235.50L1755.90 240.20L1751.20 244.90L1746.50 240.20Z" fill="#7D4E4E" fill-opacity="0.5" stroke="#000" stroke-width="0.9" stroke-opacity="0.85"/>
<rect x="1827.60" y="131.10" width="12.6" height="12.6" fill="#8E8E00"/>
<path d="M1833.90 127.20L1838.60 131.90L1833.90 136.60L1829.20 131.90Z" fill="#8E8E00" fill-opacity="0.5" stroke="#000" stroke-width="0.9" stroke-opacity="0.85"/>
<path d="M1833.90 128.30L1837.50 131.90L1833.90 135.50L1830.30 131.90Z" fill="#000" fill-opacity="0.5" stroke="#000" stroke-width="0.4" stroke-opacity="0.85"/>
<path d="M1833.90 128.20L1838.60 132.90L1833.90 137.60L1829.20 132.90Z" fill="#8E8E00" fill-opacity="0.5" stroke="#000" stroke-width="0.9" stroke-opacity="0.85"/>
<path d="M1833.90 129.30L1837.50 132.90L1833.90 136.50L1830.30 132.90Z" fill="#000" fill-opacity="0.5" stroke="#000" stroke-width="0.4" stroke-opacity="0.85"/>
<path d="M1833.90 132.70L1838.60 137.40L1833.90 142.10L1829.20 137.40Z" fill="#8E8E00" fill-opacity="0.5" stroke="#000" stroke-width="0.9" stroke-opacity="0.85"/>
<path d="M1833.90 133.80L1837.50 137.40L1833.90 141.00L1830.30 137.40Z" fill="#000" fill-opacity="0.5" stroke="#000" stroke-width="0.4" stroke-opacity="0.85"/>
<path d="M1833.90 137.20L1838.60 141.90L1833.90 146.60L1829.20 141.90Z" fill="#8E8E00" fill-opacity="0.5" stroke="#000" stroke-width="0.9" stroke-opacity="0.85"/>
<path d="M1833.90 138.30L1837.50 141.90L1833.90 145.50L1830.30 141.90Z" fill="#000" fill-opacity="0.5" stroke="#000" stroke-width="0.4" stroke-opacity="0.85"/>
<path d="M1833.90 138.20L1838.60 142.90L1833.90 147.60L1829.20 142.90Z" fill="#8E8E00" fill-opacity="0.5" stroke="#000" stroke-width="0.9" stroke-opacity="0.85"/>
<path d="M1833.90 139.30L1837.50 142.90L1833.90 146.50L1830.30 142.90Z" fill="#000" fill-opacity="0.5" stroke="#000" stroke-width="0.4" stroke-opacity="0.85"/>
<path d="M1228.00 505.13L1245.40 505.13L1236.70 519.13Z" fill="#3c3c3c"/>
<path d="M1236.70 500.70L1241.30 505.30L1236.70 509.90L1232.10 505.30Z" fill="#3c3c3c" fill-opacity="0.5" stroke="#222" stroke-width="0.7" stroke-opacity="0.85"/>
<path d="M1236.70 501.90L1240.10 505.30L1236.70 508.70L1233.30 505.30Z" fill="#000" fill-opacity="0.3" stroke="#000" stroke-width="0.3" stroke-opacity="0.85"/>
<path d="M1236.70 505.70L1241.30 510.30L1236.70 514.90L1232.10 510.30Z" fill="#3c3c3c" fill-opacity="0.5" stroke="#222" stroke-width="0.7" stroke-opacity="0.85"/>
<path d="M1236.70 506.90L1240.10 510.30L1236.70 513.70L1233.30 510.30Z" fill="#000" fill-opacity="0.3" stroke="#000" stroke-width="0.3" stroke-opacity="0.85"/>
<path d="M1236.70 506.70L1241.30 511.30L1236.70 515.90L1232.10 511.30Z" fill="#3c3c3c" fill-opacity="0.5" stroke="#222" stroke-width="0.7" stroke-opacity="0.85"/>
<path d="M1236.70 507.90L1240.10 511.30L1236.70 514.70L1233.30 511.30Z" fill="#000" fill-opacity="0.3" stroke="#000" stroke-width="0.3" stroke-opacity="0.85"/>
<line x1="1411.00" y1="408.00" x2="1411.00" y2="422.00" stroke="#111" stroke-width="2.0" />
<line x1="1404.80" y1="408.00" x2="1417.20" y2="408.00" stroke="#111" stroke-width="2.0" />
<line x1="1404.80" y1="422.00" x2="1417.20" y2="422.00" stroke="#111" stroke-width="2.0" />
<path d="M1402.30 409.33L1419.70 409.33L1411.00 423.33Z" fill="#F14040"/>
<path d="M1411.00 398.70L1415.60 403.30L1411.00 407.90L1406.40 403.30Z" fill="#F14040" fill-opacity="0.5" stroke="#222" stroke-width="0.7" stroke-opacity="0.85"/>
<path d="M1411.00 404.40L1415.60 409.00L1411.00 413.60L1406.40 409.00Z" fill="#F14040" fill-opacity="0.5" stroke="#222" stroke-width="0.7" stroke-opacity="0.85"/>
<path d="M1411.00 408.40L1415.60 413.00L1411.00 417.60L1406.40 413.00Z" fill="#F14040" fill-opacity="0.5" stroke="#222" stroke-width="0.7" stroke-opacity="0.85"/>
<path d="M1411.00 409.40L1415.60 414.00L1411.00 418.60L1406.40 414.00Z" fill="#F14040" fill-opacity="0.5" stroke="#222" stroke-width="0.7" stroke-opacity="0.85"/>
<path d="M1411.00 413.40L1415.60 418.00L1411.00 422.60L1406.40 418.00Z" fill="#F14040" fill-opacity="0.5" stroke="#222" stroke-width="0.7" stroke-opacity="0.85"/>
<path d="M1411.00 418.40L1415.60 423.00L1411.00 427.60L1406.40 423.00Z" fill="#F14040" fill-opacity="0.5" stroke="#222" stroke-width="0.7" stroke-opacity="0.85"/>
<line x1="1485.50" y1="341.30" x2="1485.50" y2="385.00" stroke="#111" stroke-width="2.0" />
<line x1="1479.30" y1="341.30" x2="1491.70" y2="341.30" stroke="#111" stroke-width="2.0" />
<line x1="1479.30" y1="385.00" x2="1491.70" y2="385.00" stroke="#111" stroke-width="2.0" />
<path d="M1476.80 358.53L1494.20 358.53L1485.50 372.53Z" fill="#37AD6B"/>
<path d="M1485.50 335.80L1490.10 340.40L1485.50 345.00L1480.90 340.40Z" fill="#37AD6B" fill-opacity="0.5" stroke="#222" stroke-width="0.7" stroke-opacity="0.85"/>
<path d="M1485.50 344.40L1490.10 349.00L1485.50 353.60L1480.90 349.00Z" fill="#37AD6B" fill-opacity="0.5" stroke="#222" stroke-width="0.7" stroke-opacity="0.85"/>
<path d="M1485.50 357.90L1490.10 362.50L1485.50 367.10L1480.90 362.50Z" fill="#37AD6B" fill-opacity="0.5" stroke="#222" stroke-width="0.7" stroke-opacity="0.85"/>
<path d="M1485.50 394.40L1490.10 399.00L1485.50 403.60L1480.90 399.00Z" fill="#37AD6B" fill-opacity="0.5" stroke="#222" stroke-width="0.7" stroke-opacity="0.85"/>
<line x1="1651.50" y1="292.00" x2="1651.50" y2="334.30" stroke="#111" stroke-width="2.0" />
<line x1="1645.30" y1="292.00" x2="1657.70" y2="292.00" stroke="#111" stroke-width="2.0" />
<line x1="1645.30" y1="334.30" x2="1657.70" y2="334.30" stroke="#111" stroke-width="2.0" />
<path d="M1642.80 308.93L1660.20 308.93L1651.50 322.93Z" fill="#CC9900"/>
<path d="M1651.50 289.40L1656.10 294.00L1651.50 298.60L1646.90 294.00Z" fill="#CC9900" fill-opacity="0.5" stroke="#222" stroke-width="0.7" stroke-opacity="0.85"/>
<path d="M1651.50 292.70L1656.10 297.30L1651.50 301.90L1646.90 297.30Z" fill="#CC9900" fill-opacity="0.5" stroke="#222" stroke-width="0.7" stroke-opacity="0.85"/>
<path d="M1651.50 311.10L1656.10 315.70L1651.50 320.30L1646.90 315.70Z" fill="#CC9900" fill-opacity="0.5" stroke="#222" stroke-width="0.7" stroke-opacity="0.85"/>
<path d="M1651.50 342.20L1656.10 346.80L1651.50 351.40L1646.90 346.80Z" fill="#CC9900" fill-opacity="0.5" stroke="#222" stroke-width="0.7" stroke-opacity="0.85"/>
<line x1="1734.30" y1="170.80" x2="1734.30" y2="188.20" stroke="#111" stroke-width="2.0" />
<line x1="1728.10" y1="170.80" x2="1740.50" y2="170.80" stroke="#111" stroke-width="2.0" />
<line x1="1728.10" y1="188.20" x2="1740.50" y2="188.20" stroke="#111" stroke-width="2.0" />
<path d="M1725.60 174.23L1743.00 174.23L1734.30 188.23Z" fill="#00CBCC"/>
<path d="M1734.30 164.90L1738.90 169.50L1734.30 174.10L1729.70 169.50Z" fill="#00CBCC" fill-opacity="0.5" stroke="#222" stroke-width="0.7" stroke-opacity="0.85"/>
<path d="M1734.30 185.10L1738.90 189.70L1734.30 194.30L1729.70 189.70Z" fill="#00CBCC" fill-opacity="0.5" stroke="#222" stroke-width="0.7" stroke-opacity="0.85"/>
<line x1="1817.60" y1="70.40" x2="1817.60" y2="100.60" stroke="#111" stroke-width="2.0" />
<line x1="1811.40" y1="70.40" x2="1823.80" y2="70.40" stroke="#111" stroke-width="2.0" />
<line x1="1811.40" y1="100.60" x2="1823.80" y2="100.60" stroke="#111" stroke-width="2.0" />
<path d="M1808.90 81.23L1826.30 81.23L1817.60 95.23Z" fill="#7D4E4E"/>
<path d="M1817.60 65.70L1822.20 70.30L1817.60 74.90L1813.00 70.30Z" fill="#7D4E4E" fill-opacity="0.5" stroke="#222" stroke-width="0.7" stroke-opacity="0.85"/>
<path d="M1817.60 96.40L1822.20 101.00L1817.60 105.60L1813.00 101.00Z" fill="#7D4E4E" fill-opacity="0.5" stroke="#222" stroke-width="0.7" stroke-opacity="0.85"/>
<path d="M1891.50 64.33L1908.90 64.33L1900.20 78.33Z" fill="#8E8E00"/>
<path d="M1900.20 58.60L1904.80 63.20L1900.20 67.80L1895.60 63.20Z" fill="#8E8E00" fill-opacity="0.5" stroke="#222" stroke-width="0.7" stroke-opacity="0.85"/>
<path d="M1900.20 59.80L1903.60 63.20L1900.20 66.60L1896.80 63.20Z" fill="#000" fill-opacity="0.3" stroke="#000" stroke-width="0.3" stroke-opacity="0.85"/>
<path d="M1900.20 64.40L1904.80 69.00L1900.20 73.60L1895.60 69.00Z" fill="#8E8E00" fill-opacity="0.5" stroke="#222" stroke-width="0.7" stroke-opacity="0.85"/>
<path d="M1900.20 65.60L1903.60 69.00L1900.20 72.40L1896.80 69.00Z" fill="#000" fill-opacity="0.3" stroke="#000" stroke-width="0.3" stroke-opacity="0.85"/>
<path d="M1900.20 65.40L1904.80 70.00L1900.20 74.60L1895.60 70.00Z" fill="#8E8E00" fill-opacity="0.5" stroke="#222" stroke-width="0.7" stroke-opacity="0.85"/>
<path d="M1900.20 66.60L1903.60 70.00L1900.20 73.40L1896.80 70.00Z" fill="#000" fill-opacity="0.3" stroke="#000" stroke-width="0.3" stroke-opacity="0.85"/>
<path d="M1900.20 69.40L1904.80 74.00L1900.20 78.60L1895.60 74.00Z" fill="#8E8E00" fill-opacity="0.5" stroke="#222" stroke-width="0.7" stroke-opacity="0.85"/>
<path d="M1900.20 70.60L1903.60 74.00L1900.20 77.40L1896.80 74.00Z" fill="#000" fill-opacity="0.3" stroke="#000" stroke-width="0.3" stroke-opacity="0.85"/>
<path d="M1900.20 70.40L1904.80 75.00L1900.20 79.60L1895.60 75.00Z" fill="#8E8E00" fill-opacity="0.5" stroke="#222" stroke-width="0.7" stroke-opacity="0.85"/>
<path d="M1900.20 71.60L1903.60 75.00L1900.20 78.40L1896.80 75.00Z" fill="#000" fill-opacity="0.3" stroke="#000" stroke-width="0.3" stroke-opacity="0.85"/>
<rect x="1153.9" y="2.1" width="762.8999999999999" height="635.6999999999999" fill="none" stroke="#050505" stroke-width="2.3"/>
<line x1="1203.40" y1="2.10" x2="1203.40" y2="12.10" stroke="#050505" stroke-width="2.1" />
<line x1="1203.40" y1="637.80" x2="1203.40" y2="627.80" stroke="#050505" stroke-width="2.1" />
<text transform="translate(1203.40 668.30) scale(0.91 1)" font-size="25.0" text-anchor="middle" fill="#111" >1</text>
<line x1="1286.33" y1="2.10" x2="1286.33" y2="12.10" stroke="#050505" stroke-width="2.1" />
<line x1="1286.33" y1="637.80" x2="1286.33" y2="627.80" stroke="#050505" stroke-width="2.1" />
<text transform="translate(1286.33 668.30) scale(0.91 1)" font-size="25.0" text-anchor="middle" fill="#111" >2</text>
<line x1="1369.26" y1="2.10" x2="1369.26" y2="12.10" stroke="#050505" stroke-width="2.1" />
<line x1="1369.26" y1="637.80" x2="1369.26" y2="627.80" stroke="#050505" stroke-width="2.1" />
<text transform="translate(1369.26 668.30) scale(0.91 1)" font-size="25.0" text-anchor="middle" fill="#111" >3</text>
<line x1="1452.19" y1="2.10" x2="1452.19" y2="12.10" stroke="#050505" stroke-width="2.1" />
<line x1="1452.19" y1="637.80" x2="1452.19" y2="627.80" stroke="#050505" stroke-width="2.1" />
<text transform="translate(1452.19 668.30) scale(0.91 1)" font-size="25.0" text-anchor="middle" fill="#111" >4</text>
<line x1="1535.12" y1="2.10" x2="1535.12" y2="12.10" stroke="#050505" stroke-width="2.1" />
<line x1="1535.12" y1="637.80" x2="1535.12" y2="627.80" stroke="#050505" stroke-width="2.1" />
<text transform="translate(1535.12 668.30) scale(0.91 1)" font-size="25.0" text-anchor="middle" fill="#111" >5</text>
<line x1="1618.05" y1="2.10" x2="1618.05" y2="12.10" stroke="#050505" stroke-width="2.1" />
<line x1="1618.05" y1="637.80" x2="1618.05" y2="627.80" stroke="#050505" stroke-width="2.1" />
<text transform="translate(1618.05 668.30) scale(0.91 1)" font-size="25.0" text-anchor="middle" fill="#111" >6</text>
<line x1="1700.98" y1="2.10" x2="1700.98" y2="12.10" stroke="#050505" stroke-width="2.1" />
<line x1="1700.98" y1="637.80" x2="1700.98" y2="627.80" stroke="#050505" stroke-width="2.1" />
<text transform="translate(1700.98 668.30) scale(0.91 1)" font-size="25.0" text-anchor="middle" fill="#111" >7</text>
<line x1="1783.91" y1="2.10" x2="1783.91" y2="12.10" stroke="#050505" stroke-width="2.1" />
<line x1="1783.91" y1="637.80" x2="1783.91" y2="627.80" stroke="#050505" stroke-width="2.1" />
<text transform="translate(1783.91 668.30) scale(0.91 1)" font-size="25.0" text-anchor="middle" fill="#111" >8</text>
<line x1="1866.84" y1="2.10" x2="1866.84" y2="12.10" stroke="#050505" stroke-width="2.1" />
<line x1="1866.84" y1="637.80" x2="1866.84" y2="627.80" stroke="#050505" stroke-width="2.1" />
<text transform="translate(1866.84 668.30) scale(0.91 1)" font-size="25.0" text-anchor="middle" fill="#111" >9</text>
<text transform="translate(1141.80 646.10) scale(0.91 1)" font-size="25.2" text-anchor="end" fill="#111" >0.0</text>
<text transform="translate(1929.40 646.10) scale(0.91 1)" font-size="25.2" text-anchor="start" fill="#111" >0.0</text>
<line x1="1153.90" y1="597.49" x2="1159.40" y2="597.49" stroke="#050505" stroke-width="2.1" />
<line x1="1916.80" y1="597.49" x2="1911.30" y2="597.49" stroke="#050505" stroke-width="2.1" />
<line x1="1153.90" y1="556.67" x2="1164.40" y2="556.67" stroke="#050505" stroke-width="2.1" />
<line x1="1916.80" y1="556.67" x2="1906.30" y2="556.67" stroke="#050505" stroke-width="2.1" />
<text transform="translate(1141.80 564.47) scale(0.91 1)" font-size="25.2" text-anchor="end" fill="#111" >0.5</text>
<text transform="translate(1929.40 564.47) scale(0.91 1)" font-size="25.2" text-anchor="start" fill="#111" >0.2</text>
<line x1="1153.90" y1="515.86" x2="1159.40" y2="515.86" stroke="#050505" stroke-width="2.1" />
<line x1="1916.80" y1="515.86" x2="1911.30" y2="515.86" stroke="#050505" stroke-width="2.1" />
<line x1="1153.90" y1="475.05" x2="1164.40" y2="475.05" stroke="#050505" stroke-width="2.1" />
<line x1="1916.80" y1="475.05" x2="1906.30" y2="475.05" stroke="#050505" stroke-width="2.1" />
<text transform="translate(1141.80 482.85) scale(0.91 1)" font-size="25.2" text-anchor="end" fill="#111" >1.0</text>
<text transform="translate(1929.40 482.85) scale(0.91 1)" font-size="25.2" text-anchor="start" fill="#111" >0.3</text>
<line x1="1153.90" y1="434.24" x2="1159.40" y2="434.24" stroke="#050505" stroke-width="2.1" />
<line x1="1916.80" y1="434.24" x2="1911.30" y2="434.24" stroke="#050505" stroke-width="2.1" />
<line x1="1153.90" y1="393.42" x2="1164.40" y2="393.42" stroke="#050505" stroke-width="2.1" />
<line x1="1916.80" y1="393.42" x2="1906.30" y2="393.42" stroke="#050505" stroke-width="2.1" />
<text transform="translate(1141.80 401.22) scale(0.91 1)" font-size="25.2" text-anchor="end" fill="#111" >1.5</text>
<text transform="translate(1929.40 401.22) scale(0.91 1)" font-size="25.2" text-anchor="start" fill="#111" >0.5</text>
<line x1="1153.90" y1="352.61" x2="1159.40" y2="352.61" stroke="#050505" stroke-width="2.1" />
<line x1="1916.80" y1="352.61" x2="1911.30" y2="352.61" stroke="#050505" stroke-width="2.1" />
<line x1="1153.90" y1="311.80" x2="1164.40" y2="311.80" stroke="#050505" stroke-width="2.1" />
<line x1="1916.80" y1="311.80" x2="1906.30" y2="311.80" stroke="#050505" stroke-width="2.1" />
<text transform="translate(1141.80 319.60) scale(0.91 1)" font-size="25.2" text-anchor="end" fill="#111" >2.0</text>
<text transform="translate(1929.40 319.60) scale(0.91 1)" font-size="25.2" text-anchor="start" fill="#111" >0.6</text>
<line x1="1153.90" y1="270.99" x2="1159.40" y2="270.99" stroke="#050505" stroke-width="2.1" />
<line x1="1916.80" y1="270.99" x2="1911.30" y2="270.99" stroke="#050505" stroke-width="2.1" />
<line x1="1153.90" y1="230.17" x2="1164.40" y2="230.17" stroke="#050505" stroke-width="2.1" />
<line x1="1916.80" y1="230.17" x2="1906.30" y2="230.17" stroke="#050505" stroke-width="2.1" />
<text transform="translate(1141.80 237.97) scale(0.91 1)" font-size="25.2" text-anchor="end" fill="#111" >2.5</text>
<text transform="translate(1929.40 237.97) scale(0.91 1)" font-size="25.2" text-anchor="start" fill="#111" >0.8</text>
<line x1="1153.90" y1="189.36" x2="1159.40" y2="189.36" stroke="#050505" stroke-width="2.1" />
<line x1="1916.80" y1="189.36" x2="1911.30" y2="189.36" stroke="#050505" stroke-width="2.1" />
<line x1="1153.90" y1="148.55" x2="1164.40" y2="148.55" stroke="#050505" stroke-width="2.1" />
<line x1="1916.80" y1="148.55" x2="1906.30" y2="148.55" stroke="#050505" stroke-width="2.1" />
<text transform="translate(1141.80 156.35) scale(0.91 1)" font-size="25.2" text-anchor="end" fill="#111" >3.0</text>
<text transform="translate(1929.40 156.35) scale(0.91 1)" font-size="25.2" text-anchor="start" fill="#111" >0.9</text>
<line x1="1153.90" y1="107.74" x2="1159.40" y2="107.74" stroke="#050505" stroke-width="2.1" />
<line x1="1916.80" y1="107.74" x2="1911.30" y2="107.74" stroke="#050505" stroke-width="2.1" />
<line x1="1153.90" y1="66.92" x2="1164.40" y2="66.92" stroke="#050505" stroke-width="2.1" />
<line x1="1916.80" y1="66.92" x2="1906.30" y2="66.92" stroke="#050505" stroke-width="2.1" />
<text transform="translate(1141.80 74.72) scale(0.91 1)" font-size="25.2" text-anchor="end" fill="#111" >3.5</text>
<text transform="translate(1929.40 74.72) scale(0.91 1)" font-size="25.2" text-anchor="start" fill="#111" >1.1</text>
<line x1="1153.90" y1="26.11" x2="1159.40" y2="26.11" stroke="#050505" stroke-width="2.1" />
<line x1="1916.80" y1="26.11" x2="1911.30" y2="26.11" stroke="#050505" stroke-width="2.1" />
<text x="1369.5" y="703.4" font-size="27" fill="#111" textLength="332" lengthAdjust="spacingAndGlyphs">Number of reaction sets <tspan font-style="italic">N</tspan></text>
<g transform="translate(1092.2 357.0) rotate(-90)"><text x="0" y="0" font-size="27.8" fill="#111" font-style="italic" textLength="43" lengthAdjust="spacingAndGlyphs">OD</text><text x="43.2" y="8.5" font-size="19.5" fill="#111" textLength="31" lengthAdjust="spacingAndGlyphs">578</text></g>
<g transform="translate(1996 514.2) rotate(-90)"><text x="0" y="0" font-size="29" fill="#111" textLength="385.4" lengthAdjust="spacingAndGlyphs">Biomass concentration <tspan font-style="italic">x</tspan> / g L<tspan font-size="17.5" dy="-10.5">-1</tspan></text></g>
<text transform="translate(1051.4 47.6) scale(0.86 1)" font-size="67.5" font-weight="bold" fill="#000">B</text>
<rect x="1193" y="28" width="13.5" height="13.3" fill="#555"/>
<path d="M1190 63.2L1209.2 63.2L1199.6 78Z" fill="#555"/>
<text x="1232.8" y="41.6" font-size="24.2" fill="#111" textLength="33.6" lengthAdjust="spacingAndGlyphs" font-style="italic">OD</text>
<text x="1266.4" y="48.5" font-size="16.6" fill="#111" textLength="26.8" lengthAdjust="spacingAndGlyphs">578</text>
<text x="1299.6" y="41.6" font-size="24.2" fill="#111" textLength="250.6" lengthAdjust="spacingAndGlyphs">(Beginning of Cycle Set)</text>
<text x="1232.8" y="76.1" font-size="24.2" fill="#111" textLength="33.6" lengthAdjust="spacingAndGlyphs" font-style="italic">OD</text>
<text x="1266.4" y="83.0" font-size="16.6" fill="#111" textLength="26.8" lengthAdjust="spacingAndGlyphs">578</text>
<text x="1299.6" y="76.1" font-size="24.2" fill="#111" textLength="189" lengthAdjust="spacingAndGlyphs">(End of Cycle Set)</text>
<rect x="1183.1" y="94.50" width="38.3" height="20" fill="#515151"/>
<text x="1234" y="111.00" font-size="19.8" fill="#111" textLength="41.6" lengthAdjust="spacingAndGlyphs">Set 1</text>
<rect x="1183.1" y="124.28" width="38.3" height="20" fill="#1A6FDF"/>
<text x="1234" y="140.78" font-size="19.8" fill="#111" textLength="41.6" lengthAdjust="spacingAndGlyphs">Set 2</text>
<rect x="1183.1" y="154.06" width="38.3" height="20" fill="#F14040"/>
<text x="1234" y="170.56" font-size="19.8" fill="#111" textLength="41.6" lengthAdjust="spacingAndGlyphs">Set 3</text>
<rect x="1183.1" y="183.84" width="38.3" height="20" fill="#37AD6B"/>
<text x="1234" y="200.34" font-size="19.8" fill="#111" textLength="41.6" lengthAdjust="spacingAndGlyphs">Set 4</text>
<rect x="1183.1" y="213.62" width="38.3" height="20" fill="#B177DE"/>
<text x="1234" y="230.12" font-size="19.8" fill="#111" textLength="41.6" lengthAdjust="spacingAndGlyphs">Set 5</text>
<rect x="1183.1" y="243.40" width="38.3" height="20" fill="#CC9900"/>
<text x="1234" y="259.90" font-size="19.8" fill="#111" textLength="41.6" lengthAdjust="spacingAndGlyphs">Set 6</text>
<rect x="1183.1" y="273.18" width="38.3" height="20" fill="#00CBCC"/>
<text x="1234" y="289.68" font-size="19.8" fill="#111" textLength="41.6" lengthAdjust="spacingAndGlyphs">Set 7</text>
<rect x="1183.1" y="302.96" width="38.3" height="20" fill="#7D4E4E"/>
<text x="1234" y="319.46" font-size="19.8" fill="#111" textLength="41.6" lengthAdjust="spacingAndGlyphs">Set 8</text>
<rect x="1183.1" y="332.74" width="38.3" height="20" fill="#8E8E00"/>
<text x="1234" y="349.24" font-size="19.8" fill="#111" textLength="41.6" lengthAdjust="spacingAndGlyphs">Set 9</text>
</svg>
</body></html>
